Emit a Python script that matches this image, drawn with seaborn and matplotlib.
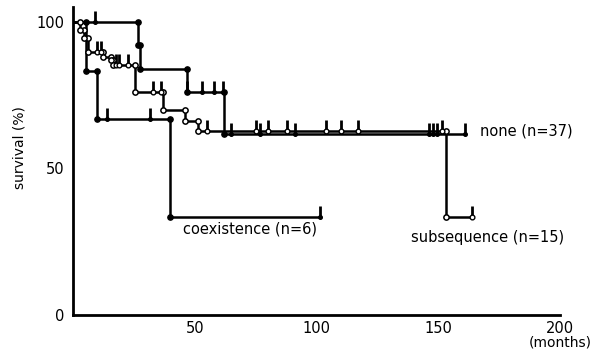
import numpy as np
import pandas as pd
import matplotlib
matplotlib.use("Agg")
import matplotlib.pyplot as plt
import seaborn as sns

# ---- data ----
none_t = [0, 26.5, 27.5, 47, 62, 161]
none_s = [100, 92.0, 84.0, 76.0, 61.8, 61.8]
none_cens = [9, 47, 53, 58, 61.5, 65, 77, 91, 146, 148, 149.5, 161]

sub_t = [0, 3, 4.5, 6, 12.5, 15.5, 16.5, 25.5, 37, 46, 51.5, 153, 164]
sub_s = [100, 97.3, 94.6, 89.8, 88.0, 86.8, 85.3, 76.0, 70.0, 66.2, 62.8, 33.3, 33.3]
sub_cens = [10, 11.5, 17.5, 19, 22.5, 33, 36, 55, 75, 80, 88, 104, 110, 117, 151.5, 164]

co_t = [0, 5.3, 9.8, 40, 101.6]
co_s = [100, 83.3, 66.7, 33.3, 33.3]
co_cens = [14, 31.7, 101.6]

x_ticks = [50, 100, 150, 200]
y_ticks = [0, 50, 100]

sns.set_style("white")
plt.rcParams['font.family'] = ['DejaVu Sans']
plt.rcParams['text.color'] = 'black'
plt.rcParams['xtick.color'] = 'black'
plt.rcParams['ytick.color'] = 'black'

fig = plt.figure(figsize=(6.02, 3.5), dpi=100)
ax = fig.add_axes([73/602, 35/350, 487/602, 308/350])

LW = 1.8


def level_at(t, s, q):
    t = np.asarray(t); s = np.asarray(s)
    idx = np.searchsorted(t, q, side='right') - 1
    return s[idx]


def draw_curve(t, s, cens, filled):
    df = pd.DataFrame({"t": t, "s": s})
    sns.lineplot(data=df, x="t", y="s", drawstyle="steps-post", estimator=None,
                 sort=False, color="black", lw=LW, ax=ax)
    t = np.asarray(t); s = np.asarray(s)
    ex = np.concatenate([t[1:-1], t[1:-1]])
    ey = np.concatenate([s[:-2], s[1:-1]])
    if filled:
        ax.plot(ex, ey, ls="none", marker="o", ms=3.8, color="black", zorder=4)
    else:
        ax.plot(ex, ey, ls="none", marker="o", ms=3.8, mfc="white", mec="black",
                mew=1.1, zorder=4)
    cy = level_at(t, s, np.asarray(cens))
    ax.plot(cens, cy, ls="none", marker=2, ms=8, mew=2, color="black", zorder=3)
    if not filled:
        ax.plot(cens, cy, ls="none", marker="o", ms=3.4, mfc="white", mec="black",
                mew=1.0, zorder=5)
    else:
        ax.plot(cens, cy, ls="none", marker="o", ms=2.6, color="black", zorder=5)


draw_curve(none_t, none_s, none_cens, True)
draw_curve(co_t, co_s, co_cens, True)
draw_curve(sub_t, sub_s, sub_cens, False)

ax.set_xlim(0, 200)
ax.set_ylim(0, 105)
ax.set_xticks(x_ticks)
ax.set_yticks(y_ticks)
ax.set_xticklabels([str(v) for v in x_ticks])
ax.set_yticklabels([str(v) for v in y_ticks])
ax.tick_params(direction="in", length=3, width=1.5, labelsize=10.5)
ax.tick_params(axis="x", pad=4)
ax.tick_params(axis="y", pad=6)
for side in ["top", "right"]:
    ax.spines[side].set_visible(False)
for side in ["left", "bottom"]:
    ax.spines[side].set_linewidth(2)
    ax.spines[side].set_color("black")
ax.set_xlabel("")
ax.set_ylabel("")

fig.text(560/602, 1 - 342/350, "(months)", ha="center", va="center", fontsize=10)
fig.text(20/602, 1 - 148/350, "survival (%)", rotation=90, ha="center", va="center",
         fontsize=10)

ax.text(167, 62.8, "none (n=37)", ha="left", va="center", fontsize=10.5)
ax.text(139, 26.3, "subsequence (n=15)", ha="left", va="center", fontsize=10.5)
ax.text(45.3, 29.4, "coexistence (n=6)", ha="left", va="center", fontsize=10.5)

fig.savefig("out.png", dpi=100)
